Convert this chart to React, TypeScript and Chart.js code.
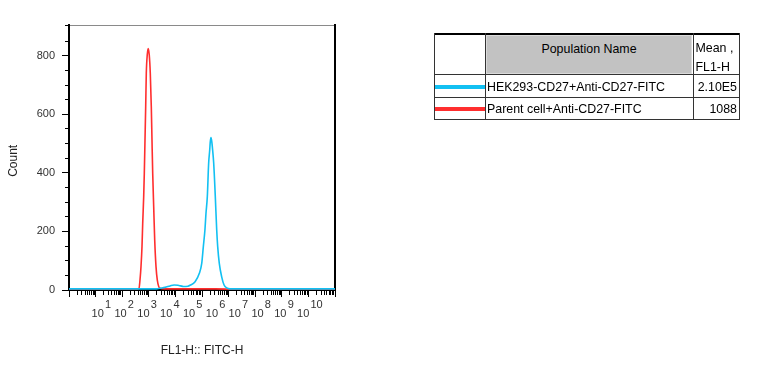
import React, { useEffect, useRef } from 'react';
import { Chart, registerables } from 'chart.js';

Chart.register(...registerables);

// ---------- data (x = log10 of FL1-H, y = count) ----------
const hekLogFL1 = [0, 1, 2, 3, 3.3, 3.42, 3.61, 3.8, 3.95, 4.1, 4.2, 4.3, 4.47, 4.55, 4.74, 4.9, 4.99, 5.05, 5.11, 5.15, 5.2, 5.25, 5.29, 5.31, 5.338, 5.37, 5.4, 5.44, 5.5, 5.553, 5.59, 5.65, 5.74, 5.83, 5.93, 6.05, 7, 8, 9, 10];
const hekCount = [4, 4, 4, 4, 4, 6, 9, 14, 17, 16, 14, 12, 13, 16, 28, 57, 91, 148, 205, 262, 319, 433, 478, 505, 521, 505, 478, 433, 319, 205, 148, 91, 45, 17, 7, 4, 4, 4, 4, 4];

const parentLogFL1 = [0, 1, 2, 2.5, 2.632, 2.669, 2.707, 2.744, 2.771, 2.808, 2.831, 2.857, 2.883, 2.906, 2.944, 2.977, 3.015, 3.056, 3.094, 3.12, 3.147, 3.184, 3.222, 3.271, 3.32, 3.421, 3.6, 4.5, 5.5, 5.95, 6.2, 7, 10];
const parentCount = [2, 2, 2, 2, 6, 34, 80, 148, 228, 319, 398, 512, 626, 740, 805, 825, 805, 740, 626, 512, 398, 284, 171, 80, 34, 6, 4, 4, 4, 3, 1, 1, 1];

const populationNames = ['HEK293-CD27+Anti-CD27-FITC', 'Parent cell+Anti-CD27-FITC'];
const populationMeans = ['2.10E5', '1088'];
const populationColors = ['#12c0f2', '#ff2e2e'];

const decadeExponents = [1, 2, 3, 4, 5, 6, 7, 8, 9, 10];
const countTicks = [0, 200, 400, 600, 800];
const countMinorStep = 50;

const FONT = "'Liberation Sans', Arial, Helvetica, sans-serif";
const TEXT = '#333333';

function ChartPanel() {
  const ref = useRef<HTMLCanvasElement | null>(null);
  useEffect(() => {
    if (!ref.current) return;
    Chart.defaults.font.family = FONT;
    const majorX: number[] = [];
    for (let n = 0; n <= 10; n++) majorX.push(Math.pow(10, n));
    const minorX: number[] = [];
    for (let n = 0; n < 10; n++) for (let k = 2; k <= 9; k++) minorX.push(k * Math.pow(10, n));

    const chart = new Chart(ref.current, {
      type: 'line',
      data: {
        datasets: [
          {
            label: populationNames[0],
            data: hekLogFL1.map((e, i) => ({ x: Math.pow(10, e), y: hekCount[i] })),
            borderColor: populationColors[0],
            borderWidth: 1.6,
            pointRadius: 0,
            cubicInterpolationMode: 'monotone',
            fill: false,
          },
          {
            label: populationNames[1],
            data: parentLogFL1.map((e, i) => ({ x: Math.pow(10, e), y: parentCount[i] })),
            borderColor: populationColors[1],
            borderWidth: 1.6,
            pointRadius: 0,
            cubicInterpolationMode: 'monotone',
            fill: false,
          },
        ],
      },
      options: {
        animation: false,
        responsive: false,
        devicePixelRatio: 1,
        layout: { padding: { top: 25, right: 443, bottom: 0, left: 0 } },
        plugins: { legend: { display: false }, tooltip: { enabled: false } },
        scales: {
          x: {
            type: 'logarithmic',
            position: 'bottom',
            min: 1,
            max: 1e10,
            afterBuildTicks: (s: any) => { s.ticks = majorX.map((v) => ({ value: v })); },
            ticks: { display: false },
            grid: { drawOnChartArea: false, drawTicks: true, tickLength: 7, tickColor: '#000', tickWidth: 1 },
            border: { display: true, color: '#000', width: 2 },
            title: { display: true, text: 'FL1-H:: FITC-H', color: '#222', font: { family: FONT, size: 12 }, padding: { top: 0, bottom: 9 } },
            afterFit: (s: any) => { s.height = 77; },
          },
          xMinor: {
            type: 'logarithmic',
            axis: 'x',
            position: { y: 0 },
            min: 1,
            max: 1e10,
            afterBuildTicks: (s: any) => { s.ticks = minorX.map((v) => ({ value: v })); },
            ticks: { display: false },
            grid: { drawOnChartArea: false, drawTicks: true, tickLength: 5, tickColor: '#000', tickWidth: 1 },
            border: { display: false },
          },
          xBase: {
            type: 'linear',
            axis: 'x',
            position: { y: 0 },
            min: -0.259,
            max: 11.393,
            afterBuildTicks: (s: any) => { s.ticks = decadeExponents.map((v) => ({ value: v })); },
            ticks: { callback: () => '10', font: { family: FONT, size: 11 }, color: TEXT, padding: 17, autoSkip: false, maxRotation: 0 },
            grid: { display: false, drawTicks: false },
            border: { display: false },
          },
          xExp: {
            type: 'linear',
            axis: 'x',
            position: { y: 0 },
            min: -0.259,
            max: 11.393,
            afterBuildTicks: (s: any) => { s.ticks = decadeExponents.map((v) => ({ value: v })); },
            ticks: { callback: (v: any) => String(v), font: { family: FONT, size: 11 }, color: TEXT, padding: 8.4, align: 'start', labelOffset: 7.3, autoSkip: false, maxRotation: 0 },
            grid: { display: false, drawTicks: false },
            border: { display: false },
          },
          xTop: {
            type: 'linear',
            axis: 'x',
            position: 'top',
            ticks: { display: false },
            grid: { drawOnChartArea: false, drawTicks: false },
            border: { display: true, color: '#8a8a8a', width: 1 },
            afterFit: (s: any) => { s.height = 0; },
          },
          y: {
            type: 'linear',
            position: 'left',
            min: 0,
            max: 905,
            afterBuildTicks: (s: any) => { s.ticks = countTicks.map((v) => ({ value: v })); },
            ticks: { font: { family: FONT, size: 11 }, color: TEXT, padding: 7 },
            grid: { drawOnChartArea: false, drawTicks: true, tickLength: 7, tickColor: '#000' },
            border: { display: true, color: '#000', width: 2 },
            title: { display: true, text: 'Count  ', color: '#222', font: { family: FONT, size: 12 }, padding: { top: 6, bottom: 0 } },
            afterFit: (s: any) => { s.width = 69; },
          },
          yMinor: {
            type: 'linear',
            axis: 'y',
            position: { x: 1 },
            min: 0,
            max: 905,
            ticks: { display: false, stepSize: countMinorStep },
            grid: { drawOnChartArea: false, drawTicks: true, tickLength: 4, tickColor: '#000' },
            border: { display: false },
          },
          yRight: {
            type: 'linear',
            axis: 'y',
            position: 'right',
            ticks: { display: false },
            grid: { drawOnChartArea: false, drawTicks: false },
            border: { display: true, color: '#000', width: 2 },
            afterFit: (s: any) => { s.width = 0; },
          },
        },
      } as any,
    });
    return () => chart.destroy();
  }, []);
  return <canvas ref={ref} width={778} height={367} style={{ position: 'absolute', left: 0, top: 0, width: 778, height: 367 }} />;
}

const cellText: React.CSSProperties = {
  position: 'absolute',
  fontFamily: FONT,
  fontSize: 12.4,
  lineHeight: '14px',
  color: '#000',
  whiteSpace: 'nowrap',
};

function line(left: number, top: number, width: number, height: number, color: string) {
  return <div style={{ position: 'absolute', left, top, width, height, background: color }} />;
}

function StatsTable() {
  const rowCenters = [86.7, 108.7];
  return (
    <div>
      {/* gray header cell */}
      <div style={{ position: 'absolute', left: 486, top: 35, width: 204, height: 37, background: '#c2c2c2', border: '1px solid #dadada' }} />
      {/* borders */}
      {line(434, 33, 306, 2, '#000')}
      {line(434, 74, 306, 1, '#333')}
      {line(434, 97, 306, 1, '#333')}
      {line(434, 119, 306, 1, '#333')}
      {line(434, 33, 1, 87, '#333')}
      {line(485, 33, 1, 87, '#333')}
      {line(693, 33, 1, 87, '#333')}
      {line(739, 33, 1, 87, '#333')}
      {/* header text */}
      <div style={{ ...cellText, left: 486, width: 206, top: 41.8, textAlign: 'center' }}>Population Name</div>
      <div style={{ ...cellText, left: 695.5, top: 41.2 }}>Mean ,</div>
      <div style={{ ...cellText, left: 695.5, top: 59.8 }}>FL1-H</div>
      {populationNames.map((name, i) => (
        <React.Fragment key={name}>
          {line(435, rowCenters[i] - 2, 50, 4, populationColors[i])}
          <div style={{ ...cellText, left: 487, top: rowCenters[i] - 6.9 }}>{name}</div>
          <div style={{ ...cellText, left: 694, width: 43, textAlign: 'right', top: rowCenters[i] - 6.9 }}>{populationMeans[i]}</div>
        </React.Fragment>
      ))}
    </div>
  );
}

export default function App() {
  return (
    <div style={{ position: 'fixed', left: 0, top: 0, width: 778, height: 367, background: '#fff', overflow: 'hidden' }}>
      <ChartPanel />
      <StatsTable />
    </div>
  );
}
